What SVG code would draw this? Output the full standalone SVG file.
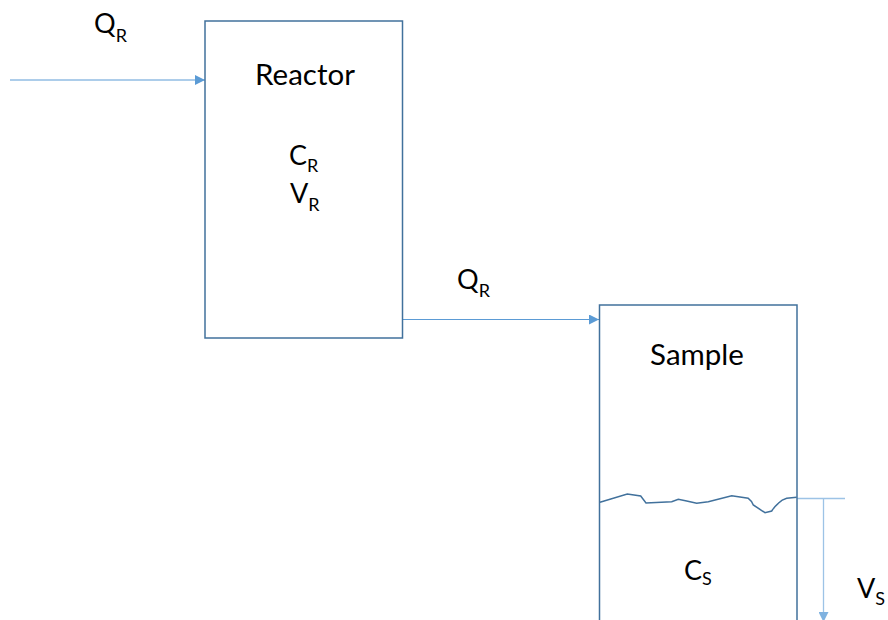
<svg xmlns="http://www.w3.org/2000/svg" width="888" height="620" viewBox="0 0 888 620">
<defs>
<style>
.box{fill:#ffffff;stroke:#41719c;stroke-width:1.5}
.conn{stroke:#5b9bd5;stroke-width:1;fill:none}
.lite{stroke:#9dc3e6;stroke-width:1.3;fill:none}
.t{font-family:Lato,"Open Sans",sans-serif;fill:#000}
.big{font-size:29.5px}
.var{font-size:27px}
.sub{font-size:18px}
</style>
<marker id="ah" viewBox="0 0 10 10" refX="10" refY="5" markerWidth="10" markerHeight="10" markerUnits="userSpaceOnUse" orient="auto">
<path d="M0,0 L10,5 L0,10 z" fill="#5b9bd5"/>
</marker>
<marker id="ah2" viewBox="0 0 10 10" refX="10" refY="5" markerWidth="10" markerHeight="10" markerUnits="userSpaceOnUse" orient="auto">
<path d="M0,0 L10,5 L0,10 z" fill="#7fb2e0"/>
</marker>
</defs>
<rect width="888" height="620" fill="#ffffff"/>
<g id="connectors">
<line class="conn" x1="10" y1="80" x2="205" y2="80" marker-end="url(#ah)"/>
<line class="conn" x1="402" y1="319.5" x2="599" y2="319.5" marker-end="url(#ah)"/>
<line class="lite" x1="797" y1="498.5" x2="845" y2="498.5"/>
<line class="lite" x1="823.5" y1="498.5" x2="823.5" y2="622" marker-end="url(#ah2)"/>
</g>
<g id="reactor">
<rect class="box" x="205" y="21" width="197.5" height="317"/>
<text class="t big" x="305" y="85" text-anchor="middle">Reactor</text>
<text class="t var" x="289" y="165">C<tspan class="sub" dy="6.5">R</tspan></text>
<text class="t var" x="290" y="203">V<tspan class="sub" dy="8">R</tspan></text>
</g>
<g id="sample">
<path class="box" d="M599.5,640 L599.5,305 L797,305 L797,640" />
<path d="M600,502.3 L627.3,494 L640.7,496 L646,503 L671.7,501.7 L678.3,499.3 L686.7,501 L696.7,503.3 L708.3,501.7 L731.7,495.7 L748.3,498.3 Q752,501 753.3,505 L765,512.7 L771.7,511 Q775,506 778.3,503.3 Q782,499.5 786.7,498.3 L796.7,497.3" fill="none" stroke="#41719c" stroke-width="1.5"/>
<text class="t big" x="697" y="365" text-anchor="middle">Sample</text>
<text class="t var" x="684" y="580">C<tspan class="sub" dy="5">S</tspan></text>
</g>
<g id="labels">
<text class="t var" x="94" y="33">Q<tspan class="sub" dy="8.5">R</tspan></text>
<text class="t var" x="457" y="289">Q<tspan class="sub" dy="7.5">R</tspan></text>
<text class="t var" x="857" y="598">V<tspan class="sub" dy="7">S</tspan></text>
</g>
</svg>
